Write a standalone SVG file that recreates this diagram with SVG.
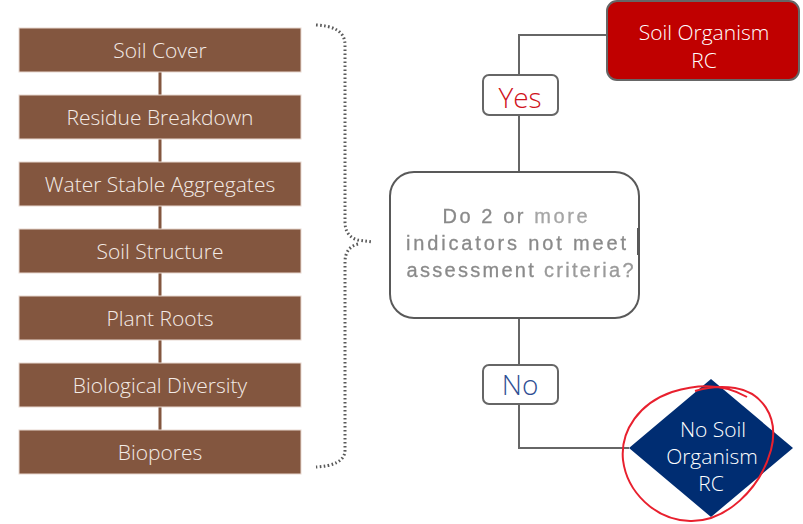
<svg xmlns="http://www.w3.org/2000/svg" width="803" height="524" viewBox="0 0 803 524">
<defs>
<style>
.box{fill:#83563f;stroke:#e8d8d0;stroke-width:1}
.bt{font-family:"Open Sans","Liberation Sans",sans-serif;font-weight:300;font-size:21px;fill:#f3ebe6;text-anchor:middle}
.wt{font-family:"Open Sans","Liberation Sans",sans-serif;font-weight:300;font-size:21px;fill:#ffffff;text-anchor:middle}
.ln{fill:none;stroke:#666666;stroke-width:2}
.bl{stroke:#83563f;stroke-width:3}
.lbl{fill:#ffffff;stroke:#666666;stroke-width:2}
.dt{font-family:"Liberation Sans",Arial,sans-serif;font-size:20px;fill:#8a8a8a;stroke:#8a8a8a;stroke-width:0.3;text-anchor:middle}
</style>
<filter id="blur" x="-5%" y="-20%" width="110%" height="140%"><feGaussianBlur stdDeviation="0.75"/></filter>
</defs>
<g id="connectors">
<line class="bl" x1="160" y1="72" x2="160" y2="95"/>
<line class="bl" x1="160" y1="139" x2="160" y2="162"/>
<line class="bl" x1="160" y1="206" x2="160" y2="229"/>
<line class="bl" x1="160" y1="273" x2="160" y2="296"/>
<line class="bl" x1="160" y1="340" x2="160" y2="363"/>
<line class="bl" x1="160" y1="407" x2="160" y2="430"/>
<path class="ln" d="M519 172 V115 M519 75 V35 H607"/>
<path class="ln" d="M519 318 V365 M519 404 V448 H629"/>
<path d="M316 25 C332 26 345 30 345 45 V222 C345 232 350 238 358 240 L373 242 M358 244 C350 246 345 252 345 262 V450 C345 462 332 466 316 467" fill="none" stroke="#595959" stroke-width="3" stroke-dasharray="1.6 2.4"/>
</g>
<g id="n1"><rect class="box" x="19" y="28" width="282" height="44"/><text class="bt" x="160" y="58">Soil Cover</text></g>
<g id="n2"><rect class="box" x="19" y="95" width="282" height="44"/><text class="bt" x="160" y="125">Residue Breakdown</text></g>
<g id="n3"><rect class="box" x="19" y="162" width="282" height="44"/><text class="bt" x="160" y="192">Water Stable Aggregates</text></g>
<g id="n4"><rect class="box" x="19" y="229" width="282" height="44"/><text class="bt" x="160" y="259">Soil Structure</text></g>
<g id="n5"><rect class="box" x="19" y="296" width="282" height="44"/><text class="bt" x="160" y="326">Plant Roots</text></g>
<g id="n6"><rect class="box" x="19" y="363" width="282" height="44"/><text class="bt" x="160" y="393">Biological Diversity</text></g>
<g id="n7"><rect class="box" x="19" y="430" width="282" height="44"/><text class="bt" x="160" y="460">Biopores</text></g>
<g id="decision">
<rect x="390" y="172" width="249" height="146" rx="24" fill="#ffffff" stroke="#595959" stroke-width="2"/>
<rect x="637" y="228" width="3" height="27" fill="#595959"/>
<g filter="url(#blur)">
<text class="dt" x="515" y="223" textLength="145" lengthAdjust="spacing">Do 2 or <tspan fill="#a5a5a5" stroke="#a5a5a5">more</tspan></text>
<text class="dt" x="516" y="250" textLength="220" lengthAdjust="spacing">indicators  not  meet</text>
<text class="dt" x="520" y="277" textLength="227" lengthAdjust="spacing">assessment  <tspan fill="#9a9a9a" stroke="#9a9a9a">criteria?</tspan></text>
</g>
</g>
<g id="yes"><rect class="lbl" x="483" y="75" width="75" height="40" rx="6"/><text x="520" y="108" font-family="Open Sans, Liberation Sans, sans-serif" font-weight="300" font-size="28" fill="#d0121b" text-anchor="middle">Yes</text></g>
<g id="no"><rect class="lbl" x="483" y="365" width="75" height="39" rx="6"/><text x="520" y="395" font-family="Open Sans, Liberation Sans, sans-serif" font-weight="300" font-size="28" fill="#2f4f94" text-anchor="middle">No</text></g>
<g id="rc"><rect x="607" y="1" width="192" height="79" rx="10" fill="#c00000" stroke="#666666" stroke-width="2"/><text class="wt" x="704" y="40">Soil Organism</text><text class="wt" x="704" y="68">RC</text></g>
<g id="norc"><polygon points="711,379 793,448 711,517 629,448" fill="#002d72"/><text class="wt" x="713" y="437">No Soil</text><text class="wt" x="712" y="464">Organism</text><text class="wt" x="711" y="491">RC</text></g>
<path d="M747 397 C725 384 700 383 672 392 C640 403 620 430 623 460 C627 492 655 520 690 521 C725 522 760 490 771 450 C780 415 760 392 735 388 C720 386 705 388 695 391" fill="none" stroke="#e8202e" stroke-width="2"/>
</svg>
